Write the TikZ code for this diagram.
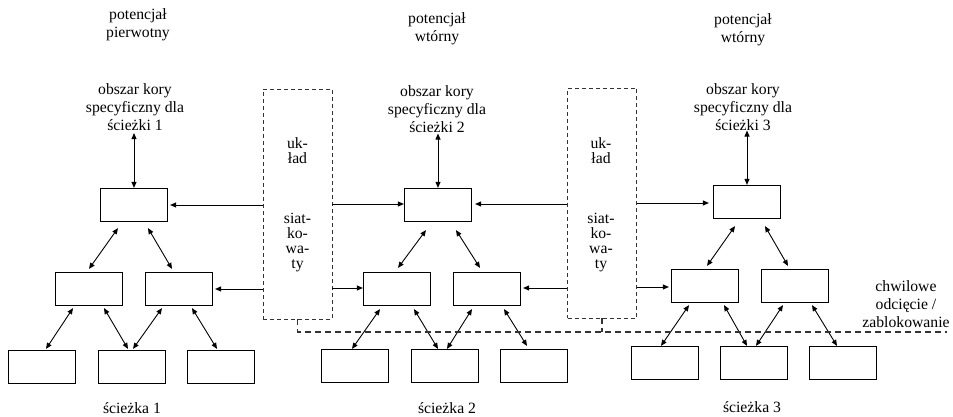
\documentclass[tikz,border=0pt]{standalone}
\usepackage{fontspec}
\setmainfont{Liberation Serif}
\usetikzlibrary{arrows.meta,calc}
% zero-depth strut that fixes the height of a label's first line
\newcommand\capline{\rule{0pt}{12pt}}
\begin{document}
\begin{tikzpicture}[x=1pt,y=-1pt,
  box/.style={draw,line width=1.2pt,minimum width=67pt,minimum height=33pt,inner sep=0pt},
  net/.style={draw=black!80,dash pattern=on 4pt off 3pt,line width=0.9pt,
              minimum width=69pt,minimum height=230pt,inner sep=0pt},
  lbl/.style={font=\fontsize{15.7}{18}\selectfont,align=center,inner sep=0pt,anchor=north},
  netlbl/.style={font=\fontsize{15.7}{15}\selectfont,align=center,inner sep=0pt,anchor=north},
  link/.style={line width=0.9pt,-{Triangle[length=6pt,width=5pt]}},
  both/.style={line width=0.9pt,{Triangle[length=6pt,width=5pt]}-{Triangle[length=6pt,width=5pt]}},
  cut/.style={draw=black!80,line width=1.4pt,dash pattern=on 6pt off 4pt}
]
\useasboundingbox (0,0) rectangle (953,417);

% ---------- headings ----------
\node[lbl] (p1) at (138,7)    {\capline potencjał\\pierwotny};
\node[lbl] (p2) at (437,11)   {\capline potencjał\\wtórny};
\node[lbl] (p3) at (743,12.5) {\capline potencjał\\wtórny};

\node[lbl] (h1) at (135,82.5) {\capline obszar kory\\specyficzny dla\\ścieżki 1};
\node[lbl] (h2) at (437,84)   {\capline obszar kory\\specyficzny dla\\ścieżki 2};
\node[lbl] (h3) at (743,82)   {\capline obszar kory\\specyficzny dla\\ścieżki 3};

\node[lbl] (s1) at (132,401) {\capline ścieżka 1};
\node[lbl] (s2) at (447,401) {\capline ścieżka 2};
\node[lbl] (s3) at (752,400) {\capline ścieżka 3};

\node[lbl] (ch) at (906,279) {\capline chwilowe\\odcięcie /\\zablokowanie};

% ---------- reticular system ----------
\node[net] (g1) at (297.5,204) {};
\node[net] (g2) at (602,203) {};
\node[netlbl] (g1a) at (297.5,136) {\capline uk-\\ład};
\node[netlbl] (g1b) at (297.5,211) {\capline siat-\\ko-\\wa-\\ty};
\node[netlbl] (g2a) at (601,136) {\capline uk-\\ład};
\node[netlbl] (g2b) at (601,211) {\capline siat-\\ko-\\wa-\\ty};

% ---------- pathway 1 ----------
\node[box] (a1) at (134,205) {};
\node[box] (b1) at (89,289) {};
\node[box] (c1) at (179,289) {};
\node[box] (d1) at (42,367) {};
\node[box] (e1) at (132,367) {};
\node[box] (f1) at (221,367) {};

% ---------- pathway 2 ----------
\node[box] (a2) at (438,205) {};
\node[box] (b2) at (397,289) {};
\node[box] (c2) at (487,289) {};
\node[box] (d2) at (355,366) {};
\node[box] (e2) at (445,366) {};
\node[box] (f2) at (534,366) {};

% ---------- pathway 3 ----------
\node[box] (a3) at (747,202) {};
\node[box] (b3) at (705,286) {};
\node[box] (c3) at (795,286) {};
\node[box] (d3) at (665,363) {};
\node[box] (e3) at (754,363) {};
\node[box] (f3) at (843,363) {};

% ---------- cortex links ----------
\draw[both] (a1.north) -- ($(a1.north |- h1.south)+(0,2)$);
\draw[both] (a2.north) -- ($(a2.north |- h2.south)+(0,1)$);
\draw[both] (a3.north) -- ($(a3.north |- h3.south)+(0,0)$);

% ---------- reticular links ----------
\draw[link,shorten >=2pt] (a1.east -| g1.west) -- (a1.east);
\draw[link,shorten >=2pt] (c1.east -| g1.west) -- (c1.east);
\draw[link] ($(a2.west -| g1.east)+(0,-1)$) -- ($(a2.west)+(0,-1)$);
\draw[link] ($(b2.west -| g1.east)+(0,-1)$) -- ($(b2.west)+(0,-1)$);
\draw[link,shorten >=3pt] ($(a2.east -| g2.west)+(0,-1)$) -- ($(a2.east)+(0,-1)$);
\draw[link,shorten >=2pt] ($(c2.east -| g2.west)+(0,-1)$) -- ($(c2.east)+(0,-1)$);
\draw[link,shorten >=4pt] ($(a3.west -| g2.east)+(0,1)$) -- ($(a3.west)+(0,1)$);
\draw[link,shorten >=2pt] ($(b3.west -| g2.east)+(0,1)$) -- ($(b3.west)+(0,1)$);

% ---------- tree links, pathway 1 ----------
\draw[both] ($(a1.south)+(-16,6)$) -- ($(b1.north)+(0,-3)$);
\draw[both] ($(a1.south)+(14,6)$)  -- ($(c1.north)+(-7,-3)$);
\draw[both] ($(b1.south)+(-16,2)$) -- ($(d1.north)+(4,-1)$);
\draw[both] ($(b1.south)+(15,2)$)  -- ($(e1.north)+(-4,-1)$);
\draw[both] ($(c1.south)+(-17,2)$) -- ($(e1.north)+(1,-1)$);
\draw[both] ($(c1.south)+(13,2)$)  -- ($(f1.north)+(-4,-1)$);

% ---------- tree links, pathway 2 ----------
\draw[both] ($(a2.south)+(-12,8)$) -- ($(b2.north)+(1,-4)$);
\draw[both] ($(a2.south)+(18,8)$)  -- ($(c2.north)+(-7,-4)$);
\draw[both] ($(b2.south)+(-17,3)$) -- ($(d2.north)+(-3,0)$);
\draw[both] ($(b2.south)+(17,3)$)  -- ($(e2.north)+(-7,0)$);
\draw[both] ($(c2.south)+(-15,3)$) -- ($(e2.north)+(2,0)$);
\draw[both] ($(c2.south)+(17,3)$)  -- ($(f2.north)+(-7,-3)$);

% ---------- tree links, pathway 3 ----------
\draw[both] ($(a3.south)+(-12,7)$) -- ($(b3.north)+(2,-3)$);
\draw[both] ($(a3.south)+(18,7)$)  -- ($(c3.north)+(-7,-3)$);
\draw[both] ($(b3.south)+(-16,2)$) -- ($(d3.north)+(-4,0)$);
\draw[both] ($(b3.south)+(19,2)$)  -- ($(e3.north)+(-7,0)$);
\draw[both] ($(c3.south)+(-12,2)$) -- ($(e3.north)+(2,0)$);
\draw[both] ($(c3.south)+(17,2)$)  -- ($(f3.north)+(-6,0)$);

% ---------- temporary cut-off line ----------
\coordinate (cutend) at (947,332);
\draw[cut] (g1.south) |- (cutend);
\draw[cut] (g2.south) -- (g2.south |- cutend);
\end{tikzpicture}
\end{document}
